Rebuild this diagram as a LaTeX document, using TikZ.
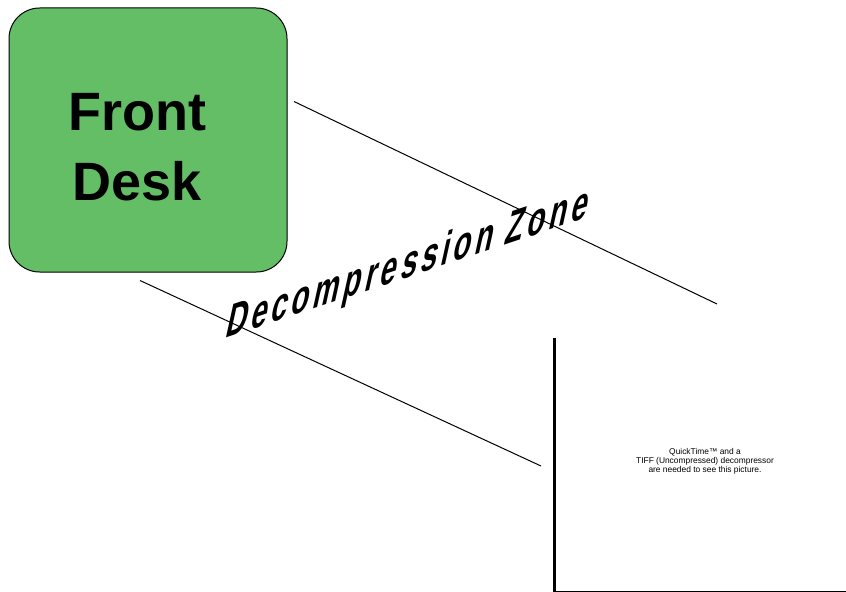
\documentclass[tikz,border=0pt]{standalone}
\usepackage{fontspec}
\setmainfont{Liberation Sans}
\usetikzlibrary{calc}
\definecolor{deskgreen}{RGB}{99,190,102}

\begin{document}
\begin{tikzpicture}[x=0.75pt, y=-0.75pt,
	deskbox/.style={draw=black, line width=0.75pt, fill=deskgreen, rounded corners=23pt,
		minimum width=208.5pt, minimum height=198pt, inner sep=0pt},
	zoneline/.style={line width=0.75pt}]
			%%%%% START %%%%%
			
			\useasboundingbox (0,0) rectangle (846,592);
			
			\node[deskbox] (desk) at (148,140) {};
			\node[font=\bfseries\fontsize{40.5}{52.5}\selectfont, align=center] (desktext) at (137,147) {Front\\Desk};
			
			\coordinate (upA) at (294,101.5);
			\coordinate (upB) at (717,304);
			\coordinate (lowA) at (140,280.5);
			\coordinate (lowB) at (541,466);
			\draw[zoneline] (upA) -- (upB);
			\draw[zoneline] (lowA) -- (lowB);
			
			\node[rotate=18.5, xslant=0.6, xscale=0.72, anchor=base west, inner sep=0pt,
				font=\bfseries\fontsize{32}{32}\selectfont\addfontfeatures{LetterSpace=14}] (zone) at (224,339) {Decompression Zone};
			
			\coordinate (scrTop) at (554.5,338);
			\coordinate (scrCorner) at (554.5,591.5);
			\coordinate (scrRight) at (846,591.5);
			\draw[line width=2.25pt] (scrTop) -- (scrCorner);
			\draw[line width=1.1pt] (scrCorner) -- (scrRight);
			
			\node[font=\fontsize{6.3}{5.6}\selectfont, align=center, inner sep=0pt] (qtnote) at (705,461) {QuickTime™ and a\\TIFF (Uncompressed) decompressor\\are needed to see this picture.};
			
			%%%%% END %%%%%
\end{tikzpicture}
\end{document}
